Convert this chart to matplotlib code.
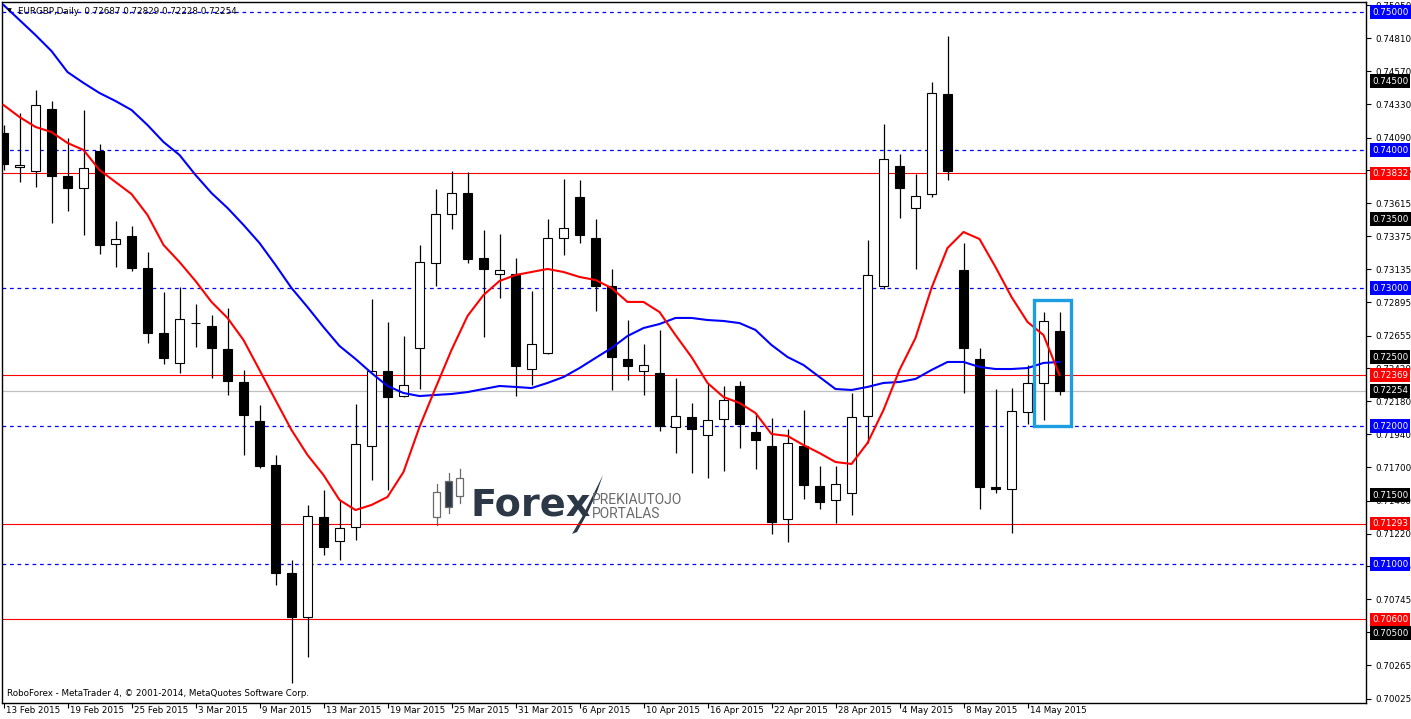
import matplotlib
matplotlib.use('Agg')
import matplotlib.pyplot as plt
from matplotlib.patches import Rectangle, Polygon
import numpy as np

# ---------------- data ----------------
opens = [0.74123, 0.73877, 0.73848, 0.74297, 0.73812, 0.73725, 0.73993, 0.73319, 0.73377, 0.73145,
         0.72674, 0.72457, 0.72748, 0.72725, 0.72558, 0.72319, 0.72036, 0.71717, 0.70935, 0.70616,
         0.71341, 0.71167, 0.71268, 0.71855, 0.72399, 0.72217, 0.72565, 0.73181, 0.73536, 0.73688,
         0.73217, 0.73101, 0.73101, 0.72413, 0.72529, 0.73362, 0.73659, 0.73362, 0.73014, 0.72486,
         0.72402, 0.72384, 0.71993, 0.72065, 0.71935, 0.72051, 0.72290, 0.71957, 0.71855, 0.71326,
         0.71855, 0.71565, 0.71464, 0.71514, 0.72072, 0.73014, 0.73884, 0.73580, 0.73681, 0.74406,
         0.73130, 0.72486, 0.71558, 0.71543, 0.72101, 0.72312, 0.72687]
highs = [0.74181, 0.74268, 0.74435, 0.74355, 0.74087, 0.74290, 0.74043, 0.73486, 0.73449, 0.73261,
         0.72971, 0.73007, 0.72884, 0.72804, 0.72855, 0.72406, 0.72152, 0.71790, 0.71029, 0.71428,
         0.71536, 0.71464, 0.72159, 0.72920, 0.72754, 0.72652, 0.73312, 0.73717, 0.73848, 0.73841,
         0.73420, 0.73391, 0.73217, 0.72978, 0.73500, 0.73790, 0.73783, 0.73500, 0.73138, 0.72768,
         0.72594, 0.72696, 0.72348, 0.72167, 0.72312, 0.72290, 0.72326, 0.72094, 0.72058, 0.71978,
         0.72116, 0.71710, 0.71710, 0.72239, 0.73348, 0.74188, 0.73971, 0.73826, 0.74493, 0.74826,
         0.73326, 0.72565, 0.72268, 0.72275, 0.72442, 0.72826, 0.72829]
lows = [0.73855, 0.73768, 0.73732, 0.73471, 0.73558, 0.73384, 0.73246, 0.73152, 0.73123, 0.72601,
        0.72449, 0.72384, 0.72572, 0.72348, 0.72225, 0.71790, 0.71696, 0.70848, 0.70138, 0.70326,
        0.71065, 0.71029, 0.71174, 0.71609, 0.71536, 0.72210, 0.72268, 0.73014, 0.73428, 0.73181,
        0.72645, 0.72928, 0.72217, 0.72297, 0.72522, 0.73239, 0.73326, 0.72833, 0.72261, 0.72333,
        0.72225, 0.71964, 0.71804, 0.71659, 0.71623, 0.71674, 0.71841, 0.71688, 0.71217, 0.71159,
        0.71471, 0.71399, 0.71297, 0.71355, 0.71877, 0.72993, 0.73507, 0.73138, 0.73659, 0.73783,
        0.72239, 0.71399, 0.71514, 0.71225, 0.72014, 0.72043, 0.72228]
closes = [0.73899, 0.73891, 0.74326, 0.73812, 0.73725, 0.73870, 0.73312, 0.73355, 0.73145, 0.72674,
          0.72493, 0.72775, 0.72745, 0.72565, 0.72326, 0.72080, 0.71710, 0.70935, 0.70616, 0.71348,
          0.71123, 0.71261, 0.71870, 0.72399, 0.72210, 0.72297, 0.73188, 0.73536, 0.73688, 0.73210,
          0.73138, 0.73130, 0.72435, 0.72594, 0.73362, 0.73435, 0.73384, 0.73014, 0.72500, 0.72435,
          0.72442, 0.72000, 0.72072, 0.71978, 0.72043, 0.72188, 0.72014, 0.71899, 0.71304, 0.71877,
          0.71572, 0.71449, 0.71580, 0.72065, 0.73094, 0.73935, 0.73725, 0.73667, 0.74413, 0.73848,
          0.72565, 0.71558, 0.71543, 0.72109, 0.72312, 0.72761, 0.72254]
ma_fast = [0.74326, 0.74239, 0.74167, 0.74130, 0.74051, 0.74000, 0.73855, 0.73768, 0.73681, 0.73529,
           0.73312, 0.73188, 0.73051, 0.72899, 0.72783, 0.72623, 0.72406, 0.72188, 0.71971, 0.71790,
           0.71645, 0.71464, 0.71391, 0.71428, 0.71486, 0.71667, 0.71993, 0.72275, 0.72551, 0.72797,
           0.72949, 0.73051, 0.73094, 0.73116, 0.73138, 0.73116, 0.73080, 0.73058, 0.73000, 0.72899,
           0.72899, 0.72826, 0.72659, 0.72500, 0.72312, 0.72210, 0.72167, 0.72094, 0.71942, 0.71928,
           0.71862, 0.71804, 0.71739, 0.71725, 0.71877, 0.72116, 0.72406, 0.72638, 0.73000, 0.73290,
           0.73406, 0.73355, 0.73152, 0.72935, 0.72754, 0.72659, 0.72369]
ma_slow = [0.75051, 0.74942, 0.74833, 0.74717, 0.74565, 0.74486, 0.74413, 0.74355, 0.74290, 0.74181,
           0.74058, 0.73964, 0.73819, 0.73688, 0.73580, 0.73457, 0.73326, 0.73167, 0.73000, 0.72862,
           0.72717, 0.72580, 0.72486, 0.72384, 0.72290, 0.72239, 0.72217, 0.72225, 0.72232, 0.72246,
           0.72268, 0.72290, 0.72283, 0.72275, 0.72312, 0.72355, 0.72420, 0.72493, 0.72565, 0.72652,
           0.72710, 0.72739, 0.72783, 0.72783, 0.72768, 0.72761, 0.72746, 0.72696, 0.72587, 0.72500,
           0.72442, 0.72355, 0.72268, 0.72261, 0.72283, 0.72312, 0.72319, 0.72341, 0.72406, 0.72464,
           0.72464, 0.72428, 0.72413, 0.72413, 0.72420, 0.72457, 0.72464]

date_labels = ["13 Feb 2015", "19 Feb 2015", "25 Feb 2015", "3 Mar 2015", "9 Mar 2015",
               "13 Mar 2015", "19 Mar 2015", "25 Mar 2015", "31 Mar 2015", "6 Apr 2015",
               "10 Apr 2015", "16 Apr 2015", "22 Apr 2015", "28 Apr 2015", "4 May 2015",
               "8 May 2015", "14 May 2015"]
date_label_bars = list(range(0, 65, 4))

price_ticks = [0.75050, 0.74810, 0.74570, 0.74330, 0.74090, 0.73855, 0.73615, 0.73375, 0.73135,
               0.72895, 0.72655, 0.72420, 0.72180, 0.71940, 0.71700, 0.71460, 0.71220, 0.70985,
               0.70745, 0.70505, 0.70265, 0.70025]

round_levels = [0.75, 0.74, 0.73, 0.72, 0.71]          # blue dashed
red_levels = [0.73832, 0.72369, 0.71293, 0.70600]       # red solid
black_levels = [0.745, 0.735, 0.725, 0.715, 0.705]      # black price tags
bid = 0.72254

title_text = "EURGBP,Daily  0.72687 0.72829 0.72228 0.72254"
copyright_text = "RoboForex - MetaTrader 4, \u00a9 2001-2014, MetaQuotes Software Corp."

highlight_bars = (64.4, 66.7)
highlight_prices = (0.72000, 0.72913)

# ---------------- figure ----------------
W, H = 1411, 719
FONT = 'DejaVu Sans'
FS = 6.3
plt.rcParams['font.family'] = [FONT]

fig = plt.figure(figsize=(W / 100, H / 100), dpi=100, facecolor='white')

# watermark logo (pixel coordinates of the figure)
lx0, lx1, ly0, ly1 = 428, 700, 463, 535
lax = fig.add_axes([lx0 / W, 1 - ly1 / H, (lx1 - lx0) / W, (ly1 - ly0) / H], zorder=0)
lax.set_xlim(lx0, lx1)
lax.set_ylim(ly1, ly0)
lax.axis('off')
logo_grey = '#6a6a6a'
logo_dark = '#2c3845'
for (xc, wt, wb, bt, bb, filled) in [(436.5, 484, 525, 492, 517, False),
                                      (448.5, 473, 513, 481, 507, True),
                                      (459.5, 469, 503, 478, 496, False)]:
    lax.plot([xc, xc], [wt, wb], color=logo_grey, lw=0.9)
    lax.add_patch(Rectangle((xc - 3.2, bt), 6.4, bb - bt,
                            facecolor=logo_dark if filled else 'white',
                            edgecolor=logo_grey, lw=0.9, zorder=3))
lax.text(471, 515, "Forex", fontsize=27.5, fontweight='bold', color=logo_dark,
         ha='left', va='baseline', family='DejaVu Sans')
lax.add_patch(Polygon([(572, 534), (582, 517), (592, 497), (603, 475), (597, 492), (587, 514), (577, 532)],
                      closed=True, facecolor=logo_dark, edgecolor='none'))
lax.text(592, 504.5, "PREKIAUTOJO", fontsize=10, color=logo_grey, ha='left', va='baseline',
         family=['Roboto', 'DejaVu Sans'])
lax.text(592, 517.5, "PORTALAS", fontsize=10, color=logo_grey, ha='left', va='baseline',
         family=['Roboto', 'DejaVu Sans'])

# main chart axes
ax_left, ax_right, ax_top, ax_bottom = 2, 1366, 2, 703
ax = fig.add_axes([ax_left / W, 1 - ax_bottom / H, (ax_right - ax_left) / W, (ax_bottom - ax_top) / H],
                  zorder=1)
ax.set_facecolor('none')

x = np.arange(len(opens))
o = np.array(opens); h = np.array(highs); l = np.array(lows); c = np.array(closes)

ax.set_xlim(-0.094, 85.156)
ax.set_ylim(0.699928, 0.750725)

# horizontal levels
for lv in round_levels:
    ax.axhline(lv, color='#0000ff', lw=0.9, ls=(0, (3, 3)), zorder=1)
for lv in red_levels:
    ax.axhline(lv, color='#ff0000', lw=0.8, zorder=1)
ax.axhline(bid, color='#c0c0c0', lw=0.9, zorder=1)

# candles
up = c >= o
ax.vlines(x, l, h, color='black', lw=0.9, zorder=3)
bottoms = np.minimum(o, c)
heights = np.maximum(np.abs(c - o), 1e-6)
body_w = 0.62
ax.bar(x[up], heights[up], bottom=bottoms[up], width=body_w, facecolor='white',
       edgecolor='black', linewidth=0.8, zorder=4)
ax.bar(x[~up], heights[~up], bottom=bottoms[~up], width=body_w, facecolor='black',
       edgecolor='black', linewidth=0.8, zorder=4)

# moving averages
ax.plot(x, ma_slow, color='#0000ff', lw=1.5, zorder=5, solid_joinstyle='round')
ax.plot(x, ma_fast, color='#ff0000', lw=1.5, zorder=5, solid_joinstyle='round')

# highlight rectangle
ax.add_patch(Rectangle((highlight_bars[0], highlight_prices[0]),
                       highlight_bars[1] - highlight_bars[0],
                       highlight_prices[1] - highlight_prices[0],
                       fill=False, edgecolor='#1c9ee0', lw=2.4, zorder=6))

# frame
for sp in ax.spines.values():
    sp.set_color('black')
    sp.set_linewidth(1.0)

# y axis on right
ax.yaxis.tick_right()
ax.set_yticks(price_ticks)
ax.set_yticklabels([f"{v:.5f}" for v in price_ticks])
ax.tick_params(axis='y', direction='out', length=3.5, width=0.8, pad=3, labelsize=FS, colors='black')

# x axis
ax.set_xticks(date_label_bars)
ax.set_xticklabels([])
ax.tick_params(axis='x', direction='out', length=3.5, width=0.8)
for b, lab in zip(date_label_bars, date_labels):
    ax.annotate(lab, xy=(b, 0), xycoords=('data', 'axes fraction'), xytext=(2, -3),
                textcoords='offset pixels', ha='left', va='top', fontsize=FS,
                annotation_clip=False)

# price tags on right axis
def tag(value, color):
    ax.annotate(f"{value:.5f}", xy=(1, value), xycoords=('axes fraction', 'data'),
                xytext=(6, 0), textcoords='offset pixels', ha='left', va='center',
                fontsize=FS, color='white', annotation_clip=False, zorder=10,
                bbox=dict(boxstyle='square,pad=0.25', facecolor=color, edgecolor='none'))

for lv in round_levels:
    tag(lv, '#0000ff')
for lv in black_levels:
    tag(lv, 'black')
tag(bid, 'black')
for lv in red_levels:
    tag(lv, '#ff0000')

# title and copyright
ax.text(0.004, 0.987, "\u25bc", transform=ax.transAxes, fontsize=4.5, ha='left', va='center', zorder=10)
ax.text(0.012, 0.987, title_text, transform=ax.transAxes, fontsize=FS, ha='left', va='center', zorder=10)
ax.text(0.0035, 0.013, copyright_text, transform=ax.transAxes, fontsize=FS, ha='left',
        va='center', zorder=10)

fig.savefig('out.png', dpi=100, facecolor='white')
